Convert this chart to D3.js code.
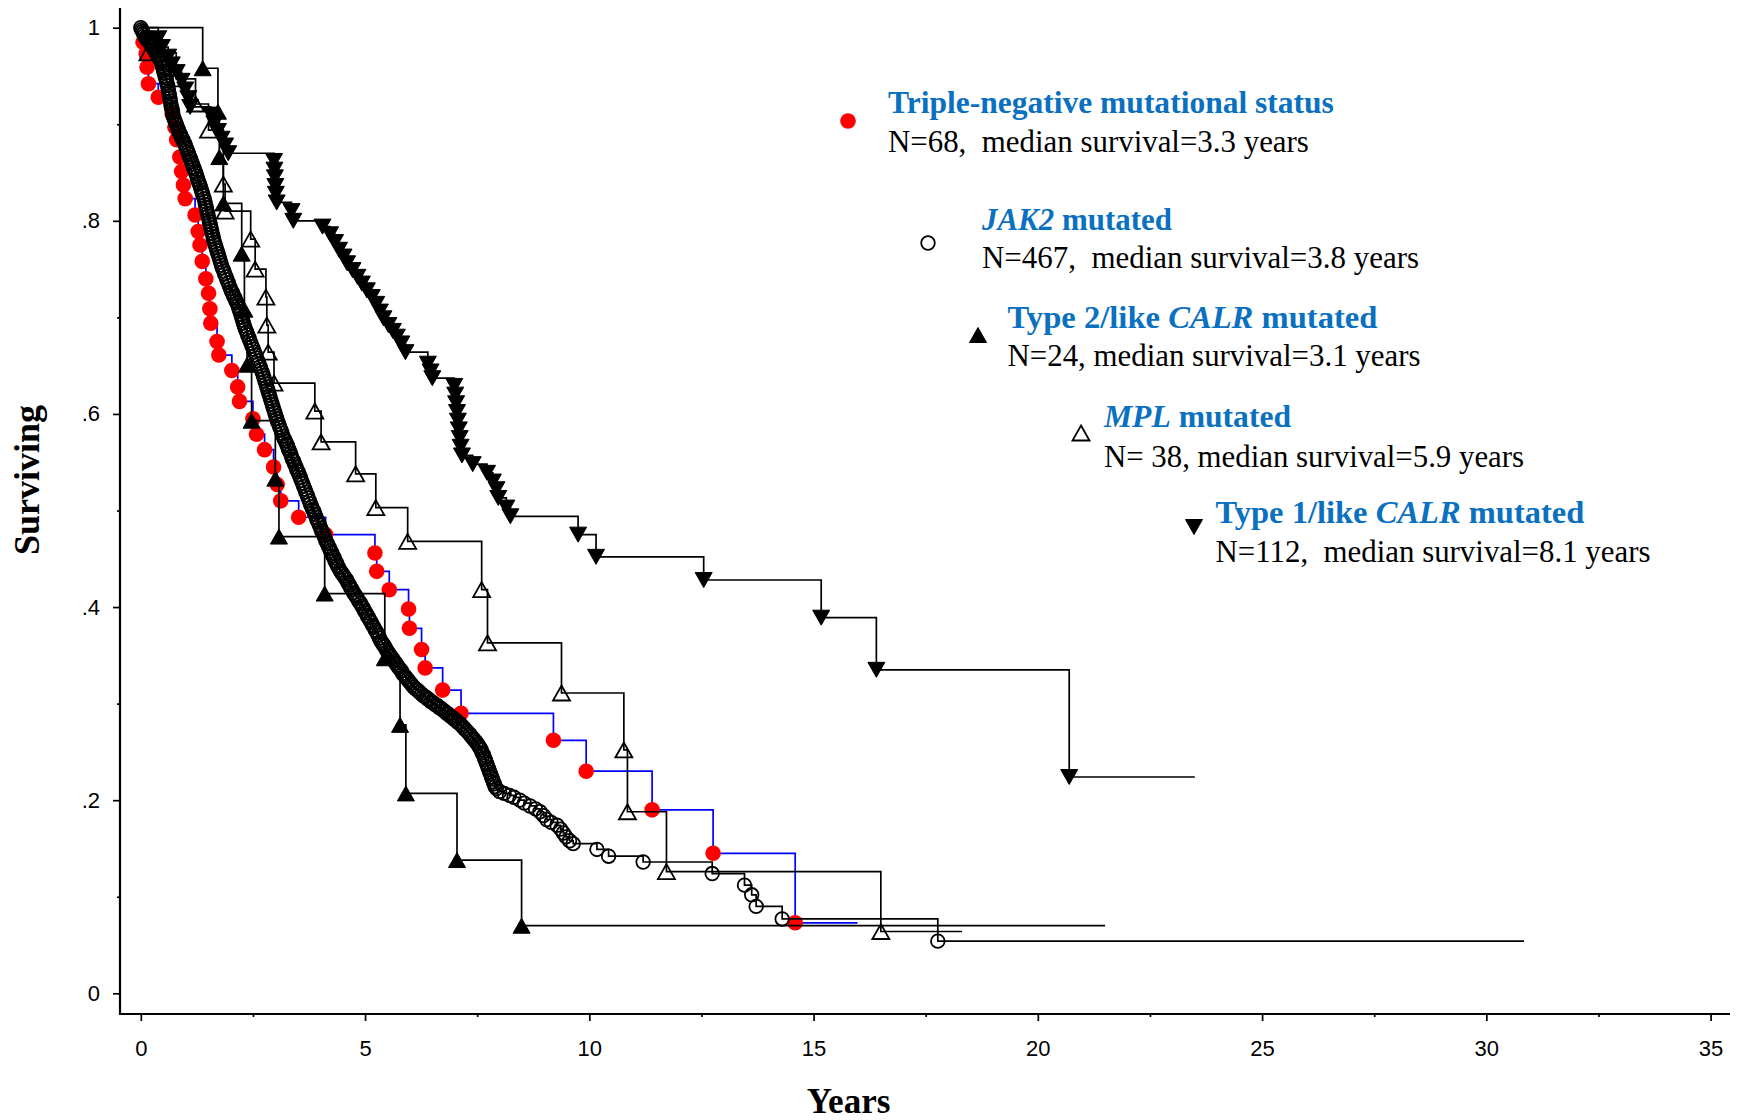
<!DOCTYPE html>
<html>
<head>
<meta charset="utf-8">
<script src="https://cdn.jsdelivr.net/npm/d3@7"></script>
<style>
  html, body { margin: 0; padding: 0; background: #fff; }
  svg { display: block; }
</style>
</head>
<body>
<svg id="chart" width="1740" height="1120"></svg>
<script>
// ---------------------------------------------------------------------------
// Overall survival by driver-mutation group: Kaplan–Meier step curves.
// Each series lists [years, surviving fraction] at every event, plus the
// last follow-up time where the curve's final plateau ends.
// ---------------------------------------------------------------------------
const xTickValues = [0, 5, 10, 15, 20, 25, 30, 35];
const xMinorTickValues = [2.5, 7.5, 12.5, 17.5, 22.5, 27.5, 32.5];
const yTickValues = [0, 0.2, 0.4, 0.6, 0.8, 1];
const yTickLabels = ["0", ".2", ".4", ".6", ".8", "1"];
const yMinorTickValues = [0.1, 0.3, 0.5, 0.7, 0.9];

const tripleNegative = [
  [0.05, .985], [0.12, .973], [0.14, .959], [0.17, .942], [0.39, .928], [0.70, .911],
  [0.76, .897], [0.80, .884], [0.87, .866], [0.91, .851], [0.95, .837], [0.99, .823],
  [1.21, .806], [1.28, .789], [1.32, .775], [1.37, .758], [1.45, .740], [1.51, .725],
  [1.54, .709], [1.56, .694], [1.70, .675], [1.74, .661], [2.03, .645], [2.16, .628],
  [2.20, .613], [2.50, .595], [2.58, .579], [2.76, .563], [2.96, .545], [3.04, .527],
  [3.12, .510], [3.52, .493], [4.12, .475], [5.22, .456], [5.26, .437], [5.54, .418],
  [5.97, .398], [5.99, .378], [6.26, .356], [6.34, .337], [6.73, .314], [7.14, .290],
  [9.20, .262], [9.93, .230], [11.40, .190], [12.76, .145], [14.59, .073]
];
const tripleNegativeLastFollowUp = 15.98;

const jak2 = [
  [0.00, 1.000], [0.02, .998], [0.04, .996], [0.06, .994], [0.08, .992], [0.10, .990],
  [0.13, .989], [0.15, .987], [0.18, .986], [0.20, .984], [0.23, .983], [0.25, .981],
  [0.28, .980], [0.30, .977], [0.33, .975], [0.35, .973], [0.38, .971], [0.40, .969],
  [0.43, .967], [0.45, .965], [0.47, .963], [0.48, .960], [0.50, .958], [0.51, .955],
  [0.53, .953], [0.54, .950], [0.56, .948], [0.57, .945], [0.58, .943], [0.60, .940],
  [0.61, .937], [0.62, .934], [0.63, .932], [0.64, .929], [0.65, .927], [0.66, .924],
  [0.67, .921], [0.68, .918], [0.70, .915], [0.71, .912], [0.72, .909], [0.74, .906],
  [0.76, .904], [0.78, .901], [0.80, .899], [0.82, .896], [0.84, .894], [0.86, .891],
  [0.89, .889], [0.91, .886], [0.94, .884], [0.96, .881], [0.99, .879], [1.01, .876],
  [1.03, .874], [1.05, .871], [1.07, .869], [1.09, .866], [1.11, .864], [1.13, .861],
  [1.15, .859], [1.17, .856], [1.19, .854], [1.21, .851], [1.23, .849], [1.25, .846],
  [1.27, .843], [1.29, .840], [1.31, .838], [1.33, .835], [1.35, .832], [1.37, .829],
  [1.39, .826], [1.41, .823], [1.43, .820], [1.44, .817], [1.46, .814], [1.47, .811],
  [1.49, .808], [1.50, .805], [1.52, .802], [1.53, .799], [1.55, .796], [1.56, .793],
  [1.58, .790], [1.59, .787], [1.61, .784], [1.62, .781], [1.64, .778], [1.66, .775],
  [1.68, .772], [1.70, .769], [1.72, .766], [1.74, .763], [1.76, .760], [1.78, .757],
  [1.80, .754], [1.82, .751], [1.85, .748], [1.87, .745], [1.90, .742], [1.92, .739],
  [1.95, .736], [1.97, .733], [2.00, .730], [2.02, .727], [2.05, .725], [2.07, .722],
  [2.10, .720], [2.12, .717], [2.15, .715], [2.17, .712], [2.19, .709], [2.21, .706],
  [2.23, .703], [2.25, .700], [2.27, .697], [2.29, .694], [2.31, .691], [2.33, .688],
  [2.36, .685], [2.38, .682], [2.41, .679], [2.43, .676], [2.46, .673], [2.48, .670],
  [2.51, .667], [2.53, .664], [2.56, .661], [2.58, .658], [2.61, .655], [2.63, .652],
  [2.66, .649], [2.68, .646], [2.71, .643], [2.73, .640], [2.75, .637], [2.77, .634],
  [2.79, .631], [2.81, .628], [2.83, .625], [2.85, .622], [2.87, .619], [2.89, .616],
  [2.91, .613], [2.93, .610], [2.95, .607], [2.97, .604], [2.99, .601], [3.01, .598],
  [3.03, .595], [3.05, .592], [3.08, .589], [3.10, .586], [3.13, .583], [3.15, .580],
  [3.17, .577], [3.20, .574], [3.22, .572], [3.25, .569], [3.27, .567], [3.29, .564],
  [3.31, .562], [3.34, .559], [3.36, .556], [3.38, .553], [3.41, .551], [3.43, .548],
  [3.46, .545], [3.48, .542], [3.51, .540], [3.53, .537], [3.56, .534], [3.58, .531],
  [3.61, .528], [3.63, .525], [3.66, .522], [3.68, .519], [3.71, .516], [3.73, .513],
  [3.76, .510], [3.78, .507], [3.81, .504], [3.83, .501], [3.86, .499], [3.88, .496],
  [3.91, .493], [3.93, .490], [3.96, .488], [3.98, .485], [4.01, .482], [4.03, .479],
  [4.06, .477], [4.08, .474], [4.11, .471], [4.13, .468], [4.16, .466], [4.18, .463],
  [4.21, .461], [4.23, .458], [4.26, .456], [4.28, .453], [4.31, .451], [4.33, .448],
  [4.36, .446], [4.38, .443], [4.41, .441], [4.44, .438], [4.47, .436], [4.50, .434],
  [4.53, .432], [4.56, .430], [4.59, .428], [4.62, .425], [4.65, .423], [4.68, .420],
  [4.71, .418], [4.74, .415], [4.77, .413], [4.80, .411], [4.83, .409], [4.86, .406],
  [4.90, .404], [4.93, .401], [4.96, .399], [4.99, .396], [5.02, .394], [5.05, .391],
  [5.08, .389], [5.11, .386], [5.14, .384], [5.17, .381], [5.20, .379], [5.23, .376],
  [5.26, .374], [5.29, .371], [5.32, .368], [5.35, .365], [5.38, .363], [5.41, .361],
  [5.44, .359], [5.47, .356], [5.50, .354], [5.53, .352], [5.56, .350], [5.59, .348],
  [5.62, .346], [5.65, .344], [5.68, .342], [5.71, .340], [5.74, .338], [5.77, .336],
  [5.81, .334], [5.84, .331], [5.88, .329], [5.91, .327], [5.95, .325], [5.98, .323],
  [6.02, .321], [6.05, .319], [6.09, .317], [6.13, .315], [6.17, .314], [6.21, .312],
  [6.26, .310], [6.30, .308], [6.35, .307], [6.39, .305], [6.43, .304], [6.47, .302],
  [6.52, .301], [6.56, .299], [6.61, .298], [6.65, .296], [6.70, .295], [6.74, .293],
  [6.78, .292], [6.82, .290], [6.86, .289], [6.90, .287], [6.94, .286], [6.98, .284],
  [7.02, .283], [7.06, .281], [7.10, .280], [7.14, .278], [7.18, .276], [7.22, .274],
  [7.26, .272], [7.30, .270], [7.34, .268], [7.37, .266], [7.41, .264], [7.44, .262],
  [7.48, .260], [7.51, .258], [7.54, .256], [7.56, .254], [7.59, .252], [7.61, .249],
  [7.64, .247], [7.66, .244], [7.68, .242], [7.70, .239], [7.72, .237], [7.74, .234],
  [7.76, .232], [7.78, .229], [7.80, .227], [7.82, .224], [7.84, .222], [7.86, .219],
  [7.88, .217], [7.90, .214], [7.93, .212],
  [8.00, .209], [8.10, .207], [8.22, .205], [8.32, .203], [8.45, .200], [8.55, .197],
  [8.68, .194], [8.80, .191], [8.90, .188], [8.98, .184], [9.05, .180], [9.15, .177],
  [9.28, .174], [9.36, .170], [9.42, .166], [9.48, .162], [9.56, .158], [9.64, .155],
  [10.17, .149], [10.43, .142], [11.20, .136], [12.74, .124], [13.46, .112], [13.62, .102],
  [13.72, .090], [14.30, .077], [17.77, .054]
];
const jak2LastFollowUp = 30.84;

const calrType2 = [
  [1.38, .958], [1.72, .913], [1.75, .866], [1.84, .818], [2.25, .766], [2.31, .708],
  [2.37, .651], [2.47, .593], [3.00, .533], [3.08, .473], [4.10, .414], [5.44, .347],
  [5.78, .278], [5.91, .207], [7.05, .138], [8.49, .070]
];
const calrType2LastFollowUp = 21.5;

const mpl = [
  [0.16, .974], [0.79, .947], [1.22, .921], [1.51, .894], [1.84, .838], [1.88, .810],
  [2.45, .781], [2.55, .750], [2.79, .721], [2.81, .692], [2.84, .664], [2.97, .632],
  [3.88, .603], [4.02, .571], [4.79, .538], [5.24, .503], [5.95, .468], [7.60, .418],
  [7.73, .363], [9.38, .311], [10.77, .252], [10.85, .188], [11.72, .126], [16.50, .064]
];
const mplLastFollowUp = 18.31;

const calrType1 = [
  [0.39, .989], [0.47, .980], [0.61, .970], [0.69, .962], [0.80, .954], [0.91, .945],
  [0.99, .936], [1.06, .927], [1.10, .918],
  [1.56, .910], [1.64, .901], [1.72, .893], [1.80, .885], [1.88, .878], [1.95, .870],
  [2.97, .862], [2.98, .853], [2.99, .845], [3.00, .836], [3.01, .828], [3.03, .819],
  [3.36, .810], [3.40, .800],
  [4.05, .794], [4.22, .786], [4.33, .778], [4.42, .770], [4.52, .763], [4.60, .756],
  [4.72, .749], [4.83, .742], [4.93, .735], [5.04, .728], [5.15, .721], [5.25, .714],
  [5.33, .706], [5.41, .699], [5.52, .692], [5.62, .686], [5.71, .680], [5.81, .673],
  [5.90, .664],
  [6.40, .652], [6.46, .644], [6.50, .637],
  [6.99, .629], [7.01, .620], [7.03, .611], [7.05, .602], [7.07, .593], [7.09, .584],
  [7.11, .575], [7.13, .566], [7.16, .557],
  [7.40, .548], [7.72, .539], [7.85, .530], [7.93, .522], [7.97, .513], [8.15, .503],
  [8.24, .494],
  [9.75, .475], [10.15, .452], [12.55, .428], [15.17, .389], [16.40, .335], [20.70, .224]
];
const calrType1LastFollowUp = 23.5;

// Legend wording: each title is a list of [text, italic] runs.
const groupTitles = [
  [["Triple-negative mutational status", false]],
  [["JAK2", true], [" mutated", false]],
  [["Type 2/like ", false], ["CALR", true], [" mutated", false]],
  [["MPL", true], [" mutated", false]],
  [["Type 1/like ", false], ["CALR", true], [" mutated", false]]
];
const groupSummaries = [
  "N=68,  median survival=3.3 years",
  "N=467,  median survival=3.8 years",
  "N=24, median survival=3.1 years",
  "N= 38, median survival=5.9 years",
  "N=112,  median survival=8.1 years"
];

// ---------------------------------------------------------------------------
// Layout and styling
// ---------------------------------------------------------------------------
const svg = d3.select("#chart");
const x = d3.scaleLinear().domain([0, 35]).range([140.8, 1710.6]);
const y = d3.scaleLinear().domain([0, 1]).range([993.3, 27.7]);

const frame = { left: 120, bottom: 1014, top: 8, right: 1730 };
const tickFont = "'Liberation Sans', Arial, sans-serif";
const serifFont = "'Liberation Serif', 'Times New Roman', serif";
const legendBlue = "#0a70c0";

// Markers
const TRI_W = 17, TRI_H = 15;
function triangle(up, w, h) {
  return up
    ? `M0,${-h / 2}L${w / 2},${h / 2}L${-w / 2},${h / 2}Z`
    : `M0,${h / 2}L${w / 2},${-h / 2}L${-w / 2},${-h / 2}Z`;
}
const markerStyles = {
  dot:      { draw: (g) => g.append("circle").attr("r", 7.8).attr("fill", "#ff0000") },
  circle:   { draw: (g) => g.append("circle").attr("r", 6.8).attr("fill", "none").attr("stroke", "#000").attr("stroke-width", 1.8) },
  triUp:    { draw: (g) => g.append("path").attr("d", triangle(true, TRI_W, TRI_H)).attr("fill", "#000").attr("stroke", "#000").attr("stroke-width", 1) },
  triUpOpen:{ draw: (g) => g.append("path").attr("d", triangle(true, TRI_W, TRI_H)).attr("fill", "none").attr("stroke", "#000").attr("stroke-width", 1.8) },
  triDown:  { draw: (g) => g.append("path").attr("d", triangle(false, TRI_W, TRI_H)).attr("fill", "#000").attr("stroke", "#000").attr("stroke-width", 1) }
};

const series = [
  { events: tripleNegative, end: tripleNegativeLastFollowUp, line: "#0000ff", marker: "dot" },
  { events: jak2,           end: jak2LastFollowUp,           line: "#000",    marker: "circle" },
  { events: calrType2,      end: calrType2LastFollowUp,      line: "#000",    marker: "triUp" },
  { events: mpl,            end: mplLastFollowUp,            line: "#000",    marker: "triUpOpen" },
  { events: calrType1,      end: calrType1LastFollowUp,      line: "#000",    marker: "triDown" }
];

// ---------------------------------------------------------------------------
// Axes
// ---------------------------------------------------------------------------
const gx = svg.append("g").attr("transform", `translate(0,${frame.bottom})`);
gx.call(d3.axisBottom(x).tickValues(xTickValues).tickSize(7).tickSizeOuter(0).tickPadding(19));
gx.append("g").call(d3.axisBottom(x).tickValues(xMinorTickValues).tickSize(3).tickSizeOuter(0).tickFormat(""));
gx.selectAll(".domain").remove();
gx.selectAll("line").attr("stroke", "#000").attr("stroke-width", 1.7);
gx.selectAll("text").attr("font-family", tickFont).attr("font-size", 22).attr("fill", "#000");
gx.append("line").attr("x1", frame.left - 1).attr("x2", frame.right).attr("y1", 0).attr("y2", 0)
  .attr("stroke", "#000").attr("stroke-width", 2.2);

const gy = svg.append("g").attr("transform", `translate(${frame.left},0)`);
gy.call(d3.axisLeft(y).tickValues(yTickValues).tickSize(7).tickSizeOuter(0).tickPadding(13)
  .tickFormat((d, i) => yTickLabels[i]));
gy.append("g").call(d3.axisLeft(y).tickValues(yMinorTickValues).tickSize(3).tickSizeOuter(0).tickFormat(""));
gy.selectAll(".domain").remove();
gy.selectAll("line").attr("stroke", "#000").attr("stroke-width", 1.7);
gy.selectAll("text").attr("font-family", tickFont).attr("font-size", 22).attr("fill", "#000");
gy.append("line").attr("x1", 0).attr("x2", 0).attr("y1", frame.top).attr("y2", frame.bottom + 1)
  .attr("stroke", "#000").attr("stroke-width", 2.2);

svg.append("text")
  .attr("transform", "translate(39,480) rotate(-90)")
  .attr("text-anchor", "middle")
  .attr("font-family", serifFont).attr("font-weight", "bold").attr("font-size", 36)
  .text("Surviving");

svg.append("text")
  .attr("x", 848.5).attr("y", 1113)
  .attr("text-anchor", "middle")
  .attr("font-family", serifFont).attr("font-weight", "bold").attr("font-size", 35)
  .text("Years");

// ---------------------------------------------------------------------------
// Survival curves
// ---------------------------------------------------------------------------
const stepLine = d3.line().x((d) => x(d[0])).y((d) => y(d[1])).curve(d3.curveStepAfter);
const plot = svg.append("g");

series.forEach((s) => {
  const last = s.events[s.events.length - 1];
  const pts = [[0, 1], ...s.events, [s.end, last[1]]];
  const g = plot.append("g");
  g.append("path").attr("d", stepLine(pts))
    .attr("fill", "none").attr("stroke", s.line).attr("stroke-width", 1.7);
  s.events.forEach((d) => {
    const m = g.append("g").attr("transform", `translate(${x(d[0])},${y(d[1])})`);
    markerStyles[s.marker].draw(m);
  });
});

// ---------------------------------------------------------------------------
// Legend
// ---------------------------------------------------------------------------
const legendLayout = [
  { mx: 848,    my: 121, tx: 888,    titleY: 113, titleW: 446, subY: 152, subW: 421 },
  { mx: 928,    my: 243, tx: 982,    titleY: 230, titleW: 190, subY: 268, subW: 437 },
  { mx: 978,    my: 335, tx: 1007.5, titleY: 328, titleW: 370, subY: 366, subW: 413 },
  { mx: 1081,   my: 433, tx: 1104,   titleY: 427, titleW: 187, subY: 467, subW: 420 },
  { mx: 1194,   my: 527, tx: 1215.5, titleY: 523, titleW: 369, subY: 562, subW: 435 }
];

function fitWidth(sel, target) {
  const w = sel.node().getComputedTextLength();
  const fs = parseFloat(sel.attr("font-size"));
  if (w > 0) sel.attr("font-size", (fs * target / w).toFixed(2));
}

const legend = svg.append("g");
series.forEach((s, i) => {
  const L = legendLayout[i];
  const m = legend.append("g").attr("transform", `translate(${L.mx},${L.my})`);
  markerStyles[s.marker].draw(m);

  const title = legend.append("text")
    .attr("x", L.tx).attr("y", L.titleY)
    .attr("font-family", serifFont).attr("font-weight", "bold").attr("font-size", 31)
    .attr("fill", legendBlue).style("white-space", "pre");
  groupTitles[i].forEach(([txt, it]) => {
    title.append("tspan").attr("font-style", it ? "italic" : "normal").text(txt);
  });
  fitWidth(title, L.titleW);

  const sub = legend.append("text")
    .attr("x", L.tx).attr("y", L.subY)
    .attr("font-family", serifFont).attr("font-size", 31)
    .attr("fill", "#000").style("white-space", "pre")
    .text(groupSummaries[i]);
  fitWidth(sub, L.subW);
});
</script>
</body>
</html>
